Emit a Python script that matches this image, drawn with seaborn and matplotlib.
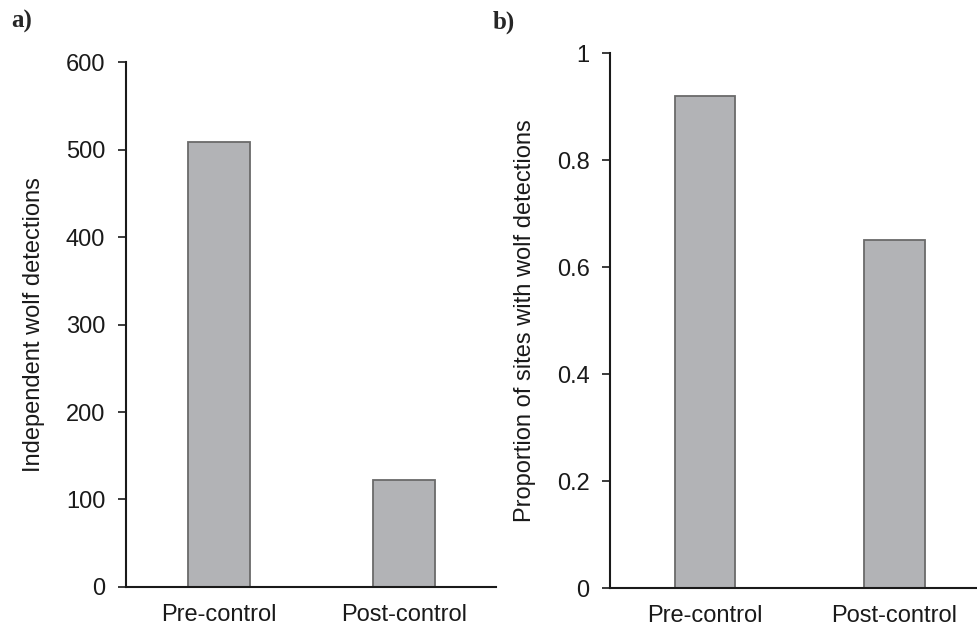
import matplotlib
matplotlib.use("Agg")
import matplotlib.pyplot as plt
from matplotlib.ticker import FuncFormatter
import seaborn as sns

# data
periods = ["Pre-control", "Post-control"]
detections = [509, 122]
site_proportion = [0.92, 0.65]

left_ticks = [0, 100, 200, 300, 400, 500, 600]
right_ticks = [0, 0.2, 0.4, 0.6, 0.8, 1.0]

bar_fill = "#b2b3b6"
bar_edge = "#6a6a6a"

sns.set_theme(style="white")
plt.rcParams["font.family"] = ["Liberation Sans", "DejaVu Sans"]

fig = plt.figure(figsize=(9.78, 6.27), dpi=100)
ax1 = fig.add_axes([0.1288, 0.0638, 0.3788, 0.8373])
ax2 = fig.add_axes([0.6242, 0.0622, 0.3871, 0.8528])


def style_panel(ax, ticks, ylabel):
    ax.set_xlim(-0.5, 1.5)
    ax.set_ylim(ticks[0], ticks[-1])
    ax.set_yticks(ticks)
    ax.yaxis.set_major_formatter(FuncFormatter(lambda v, p: "%g" % v))
    for side in ["top", "right"]:
        ax.spines[side].set_visible(False)
    for side in ["left", "bottom"]:
        ax.spines[side].set_color("#1a1a1a")
        ax.spines[side].set_linewidth(1.5)
    ax.tick_params(axis="y", direction="out", length=6, width=1.2,
                   color="#1a1a1a", left=True, labelsize=17, pad=9,
                   labelcolor="#1a1a1a")
    ax.tick_params(axis="x", length=0, labelsize=17, pad=12,
                   labelcolor="#1a1a1a")
    ax.set_xlabel("")
    ax.set_ylabel(ylabel, fontsize=17, color="#1a1a1a", labelpad=15)


sns.barplot(x=periods, y=detections, color=bar_fill, saturation=1,
            width=0.335, edgecolor=bar_edge, linewidth=1.3, ax=ax1)
style_panel(ax1, left_ticks, "Independent wolf detections")

sns.barplot(x=periods, y=site_proportion, color=bar_fill, saturation=1,
            width=0.32, edgecolor=bar_edge, linewidth=1.3, ax=ax2)
style_panel(ax2, right_ticks, "Proportion of sites with wolf detections")

# panel letters
fig.text(0.012, 0.965, "a)", fontsize=18, fontweight="bold",
         family=["Liberation Serif", "DejaVu Serif"], va="center")
fig.text(0.504, 0.965, "b)", fontsize=18, fontweight="bold",
         family=["Liberation Serif", "DejaVu Serif"], va="center")

fig.savefig("out.png", dpi=100)
